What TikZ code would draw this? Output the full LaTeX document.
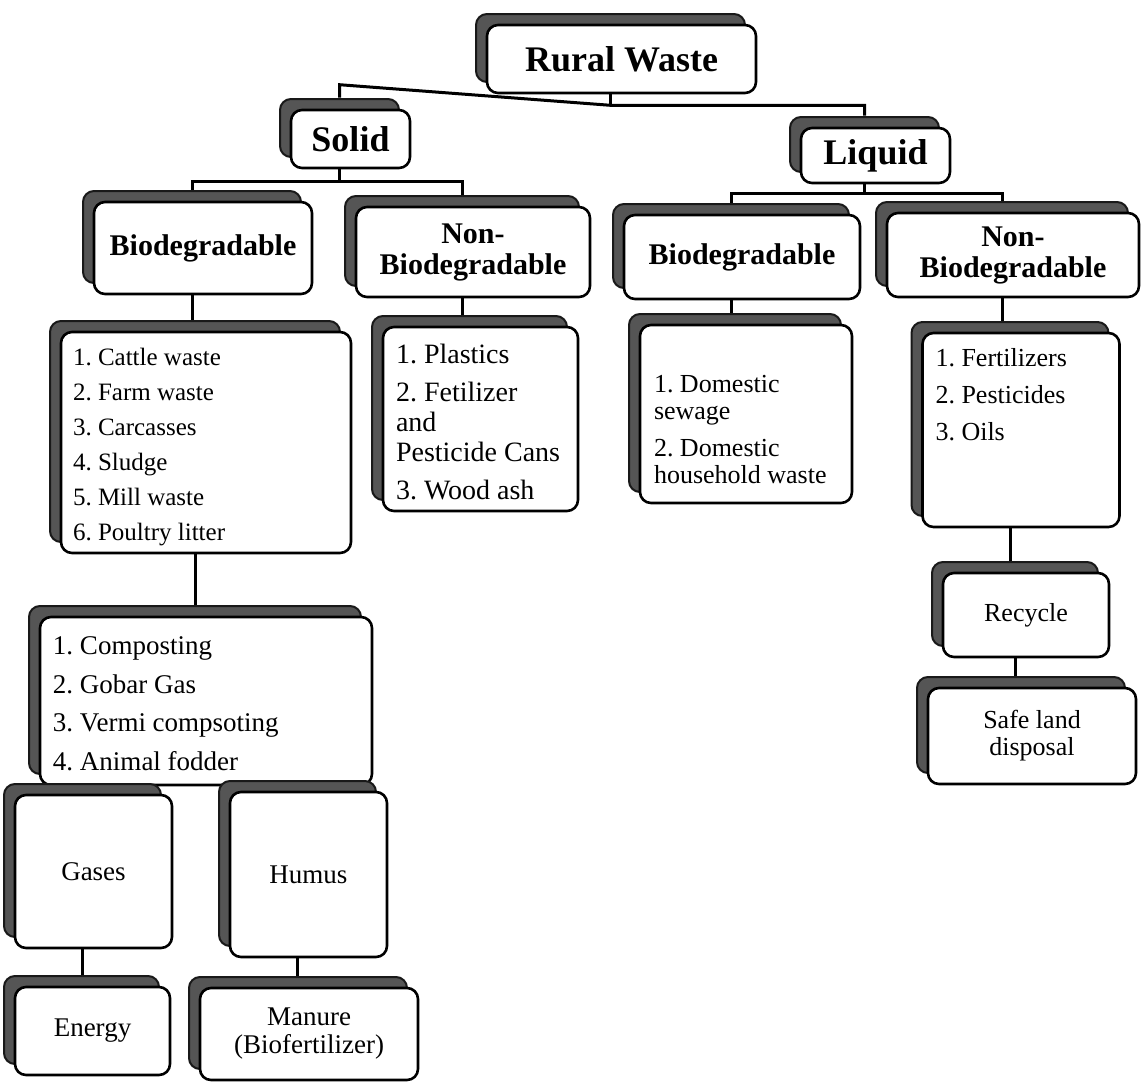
\documentclass[tikz,border=0pt]{standalone}
\usepackage{fontspec}
\setmainfont{Liberation Serif}
\usetikzlibrary{shadows}
\pgfdeclarelayer{background}
\pgfsetlayers{background,main}
\definecolor{shadefill}{RGB}{85,85,85}
\frenchspacing
\newcommand{\listbox}[5]{\parbox[c][#1][t]{#2}{\raggedright\leftskip=#3\relax\vspace*{#4}#5\par}}
\tikzset{
  box/.style={draw=black, fill=white, line width=2.6pt, rounded corners=11pt, inner sep=4pt,
    copy shadow={shadow xshift=-11pt, shadow yshift=11pt, fill=shadefill, draw=black!90, line width=2pt}},
  conn/.style={draw=black, line width=3pt},
  tophead/.style={font=\fontsize{36}{40}\selectfont\bfseries},
  subhead/.style={font=\fontsize{30}{31}\selectfont\bfseries, align=center},
  smallbox/.style={font=\fontsize{27}{28}\selectfont, align=center},
  listnode/.style={box, inner sep=0pt},
}
\begin{document}
\begin{tikzpicture}[x=1pt,y=-1pt]
\useasboundingbox (0,0) rectangle (1144,1085);

\node[box, tophead, minimum width=269pt, minimum height=68pt] (rw) at (621.5,59) {Rural Waste};
\node[box, tophead, minimum width=119pt, minimum height=58pt] (solid) at (350.5,139) {Solid};
\node[box, tophead, minimum width=149pt, minimum height=55pt] (liquid) at (875.5,155.5) {Liquid};

\node[box, subhead, minimum width=218pt, minimum height=92pt] (sbio) at (203,248) {Biodegradable};
\node[box, subhead, minimum width=234pt, minimum height=90pt] (snon) at (473,252) {Non-\\Biodegradable};
\node[box, subhead, minimum width=236pt, minimum height=84pt] (lbio) at (742,257) {Biodegradable};
\node[box, subhead, minimum width=252pt, minimum height=84pt] (lnon) at (1013,255) {Non-\\Biodegradable};

\node[listnode, font=\fontsize{25}{35}\selectfont] (slist) at (206,442.5)
  {\listbox{221pt}{290pt}{12pt}{16pt}{1. Cattle waste\\2. Farm waste\\3. Carcasses\\4. Sludge\\5. Mill waste\\6. Poultry litter}};
\node[listnode, font=\fontsize{28}{30}\selectfont] (snlist) at (480.5,419)
  {\listbox{184pt}{195pt}{13pt}{16.7pt}{1. Plastics\\[8pt]2. Fetilizer\\and\\Pesticide Cans\\[8pt]3. Wood ash}};
\node[listnode, font=\fontsize{26}{27}\selectfont] (dom) at (746,414)
  {\listbox{178pt}{212pt}{14pt}{50pt}{1. Domestic\\sewage\\[10pt]2. Domestic\\household waste}};
\node[listnode, font=\fontsize{26}{37}\selectfont] (fert) at (1021,430)
  {\listbox{194pt}{197pt}{13pt}{15pt}{1. Fertilizers\\2. Pesticides\\3. Oils}};
\node[listnode, font=\fontsize{27}{38.7}\selectfont] (proc) at (206,701)
  {\listbox{168pt}{332pt}{13pt}{19.5pt}{1. Composting\\2. Gobar Gas\\3. Vermi compsoting\\4. Animal fodder}};

\node[box, smallbox, minimum width=157pt, minimum height=153pt] (gases) at (93.5,871.5) {Gases};
\node[box, smallbox, minimum width=157pt, minimum height=165pt] (humus) at (308.5,874.5) {Humus};
\node[box, smallbox, minimum width=155pt, minimum height=88pt] (energy) at (92.5,1031) {Energy};
\node[box, smallbox, minimum width=218pt, minimum height=92pt] (manure) at (309,1034) {Manure\\(Biofertilizer)};
\node[box, smallbox, font=\fontsize{26}{27}\selectfont, minimum width=166pt, minimum height=84pt] (recycle) at (1026,615) {Recycle};
\node[box, smallbox, font=\fontsize{26}{27}\selectfont, minimum width=208pt, minimum height=96pt] (safe) at (1032,736) {Safe land\\disposal};

\foreach \n in {rw,solid,liquid,sbio,snon,lbio,lnon,slist,snlist,dom,fert,proc,gases,humus,energy,manure,recycle,safe} {
  \coordinate (\n-t) at ([xshift=-11pt,yshift=11pt]\n.north);
  \coordinate (\n-b) at ([xshift=-11pt]\n.south);
}
\coordinate (rwj) at ([yshift=-11pt]rw-b);

\begin{pgfonlayer}{background}
  \draw[conn] (rw-b) -- (rwj);
  \draw[conn] (solid-t) -- ++(0,-13) -- (rwj) -| (liquid-t);

  \draw[conn] (solid-b) -- (solid-b |- 0,181);
  \draw[conn] (sbio-t) |- (snon-t |- 0,181) -- (snon-t);

  \draw[conn] (liquid-b) -- (liquid-b |- 0,193);
  \draw[conn] (lbio-t) |- (lnon-t |- 0,193) -- (lnon-t);

  \draw[conn] (sbio-b) -- (sbio-b |- slist-t);
  \draw[conn] (snon-b) -- (snon-b |- snlist-t);
  \draw[conn] (lbio-b) -- (lbio-b |- dom-t);
  \draw[conn] (lnon-b) -- (lnon-b |- fert-t);
  \draw[conn] (slist-b) -- (slist-b |- proc-t);
  \draw[conn] (fert-b) -- (fert-b |- recycle-t);
  \draw[conn] (recycle-b) -- (recycle-b |- safe-t);
  \draw[conn] (gases-b) -- (gases-b |- energy-t);
  \draw[conn] (humus-b) -- (humus-b |- manure-t);
\end{pgfonlayer}
\end{tikzpicture}
\end{document}
